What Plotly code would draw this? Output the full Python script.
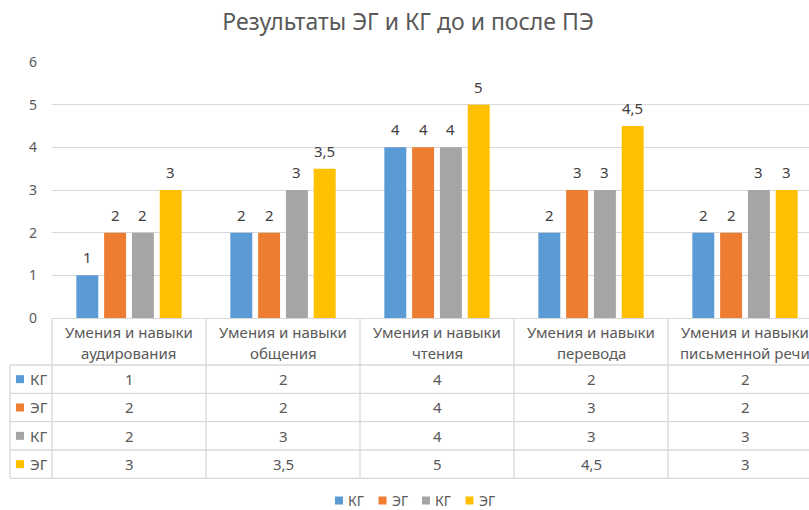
import plotly.graph_objects as go

# ---------------- data ----------------
categories = [
    "Умения и навыки\nаудирования",
    "Умения и навыки\nобщения",
    "Умения и навыки\nчтения",
    "Умения и навыки\nперевода",
    "Умения и навыки\nписьменной речи",
]
series_names = ["КГ", "ЭГ", "КГ", "ЭГ"]
kg_1 = [1, 2, 4, 2, 2]
eg_1 = [2, 2, 4, 3, 2]
kg_2 = [2, 3, 4, 3, 3]
eg_2 = [3, 3.5, 5, 4.5, 3]
series_values = [kg_1, eg_1, kg_2, eg_2]
y_ticks = [0, 1, 2, 3, 4, 5, 6]
title_text = "Результаты ЭГ и КГ до и после ПЭ"

colors = ["#5B9BD5", "#ED7D31", "#A5A5A5", "#FFC000"]
TEXT = "#595959"
GRID = "#D9D9D9"
FONT = "Noto Sans"

# ---------------- layout geometry ----------------
W, H = 809, 510
L, R, T, B = 52, 0, 62, 192
plot_w = W - L - R
plot_h = H - T - B
cat_px = 154.0
x_lo = -0.5
x_hi = x_lo + plot_w / cat_px

BARGAP = 0.278
GROUPGAP = 0.21
n = len(series_values)
slot = (1 - BARGAP) / n


def px_x(px):
    return (px - L) / plot_w


def px_y(py):
    return (H - B - py) / plot_h


def cat_paper(c):
    return (c - x_lo) / (x_hi - x_lo)


def fmt(v):
    return ("%g" % v).replace(".", ",")


x_idx = list(range(len(categories)))

fig = go.Figure()
for k, vals in enumerate(series_values):
    fig.add_trace(go.Bar(
        x=x_idx, y=vals, name=series_names[k],
        marker=dict(color=colors[k], line=dict(width=0)),
        showlegend=False, hoverinfo="skip",
    ))

annotations = []
shapes = []

# data labels above bars
for k, vals in enumerate(series_values):
    off = (k - (n - 1) / 2) * slot
    for i, v in enumerate(vals):
        annotations.append(dict(
            x=i + off, y=v, xref="x", yref="y", text=fmt(v), showarrow=False,
            yshift=18, yanchor="middle", xanchor="center",
            font=dict(size=15, color="#404040", family=FONT),
        ))

# ---------------- data table ----------------
header_top = H - B
header_bot = 365.0
row_h = 28.33
table_left = 10.0
n_rows = len(series_values)
table_bot = header_bot + n_rows * row_h
right_edge = cat_paper(len(categories) - 0.5)

line = dict(color=GRID, width=1.3)
for r in range(n_rows + 1):
    yy = px_y(header_bot + r * row_h)
    shapes.append(dict(type="line", xref="paper", yref="paper",
                       x0=px_x(table_left), x1=right_edge, y0=yy, y1=yy, line=line))
for c in range(len(categories) + 1):
    xx = cat_paper(c - 0.5)
    shapes.append(dict(type="line", xref="paper", yref="paper",
                       x0=xx, x1=xx, y0=px_y(header_top), y1=px_y(table_bot), line=line))
shapes.append(dict(type="line", xref="paper", yref="paper",
                   x0=px_x(table_left), x1=px_x(table_left),
                   y0=px_y(header_bot), y1=px_y(table_bot), line=line))

for i, cat in enumerate(categories):
    parts = cat.split("\n")
    for j, p in enumerate(parts):
        annotations.append(dict(
            x=cat_paper(i), y=px_y(332 + j * 21), xref="paper", yref="paper",
            text=p, showarrow=False, xanchor="center", yanchor="middle",
            font=dict(size=15, color=TEXT, family=FONT),
        ))

for r, vals in enumerate(series_values):
    yc = header_bot + (r + 0.5) * row_h
    shapes.append(dict(type="rect", xref="paper", yref="paper",
                       x0=px_x(16), x1=px_x(24), y0=px_y(yc - 4), y1=px_y(yc + 4),
                       fillcolor=colors[r], line=dict(width=0)))
    annotations.append(dict(
        x=px_x(28), y=px_y(yc), xref="paper", yref="paper", text=series_names[r],
        showarrow=False, xanchor="left", yanchor="middle",
        font=dict(size=15, color=TEXT, family=FONT),
    ))
    for i, v in enumerate(vals):
        annotations.append(dict(
            x=cat_paper(i), y=px_y(yc), xref="paper", yref="paper", text=fmt(v),
            showarrow=False, xanchor="center", yanchor="middle",
            font=dict(size=15, color=TEXT, family=FONT),
        ))

# ---------------- custom legend ----------------
leg_y = 500.5
leg_start = 335
leg_step = 43.5
for k, name in enumerate(series_names):
    s = leg_start + k * leg_step
    shapes.append(dict(type="rect", xref="paper", yref="paper",
                       x0=px_x(s), x1=px_x(s + 8), y0=px_y(leg_y - 4), y1=px_y(leg_y + 4),
                       fillcolor=colors[k], line=dict(width=0)))
    annotations.append(dict(
        x=px_x(s + 11), y=px_y(leg_y), xref="paper", yref="paper", text=name,
        showarrow=False, xanchor="left", yanchor="middle",
        font=dict(size=14, color=TEXT, family=FONT),
    ))

fig.update_layout(
    width=W, height=H,
    margin=dict(l=L, r=R, t=T, b=B, pad=0),
    paper_bgcolor="white", plot_bgcolor="white",
    barmode="group", bargap=BARGAP, bargroupgap=GROUPGAP,
    title=dict(text=title_text, x=408 / W, xanchor="center", y=1 - 22 / H, yanchor="middle",
               font=dict(size=23, color=TEXT, family=FONT)),
    font=dict(family=FONT, color=TEXT),
    xaxis=dict(range=[x_lo, x_hi], showticklabels=False, showgrid=False, zeroline=False,
               showline=True, linecolor=GRID, linewidth=1.3, ticks=""),
    yaxis=dict(range=[0, 6], tickvals=y_ticks, ticktext=[fmt(t) for t in y_ticks],
               showgrid=True, gridcolor=GRID, gridwidth=1.3, zeroline=False, showline=False,
               ticks="", ticklabelstandoff=14, tickfont=dict(size=14, color=TEXT, family=FONT)),
    annotations=annotations, shapes=shapes,
)

fig.write_html("out.html", config={"displayModeBar": False},
               post_script="document.body.style.margin='0';document.body.style.overflow='hidden';")
